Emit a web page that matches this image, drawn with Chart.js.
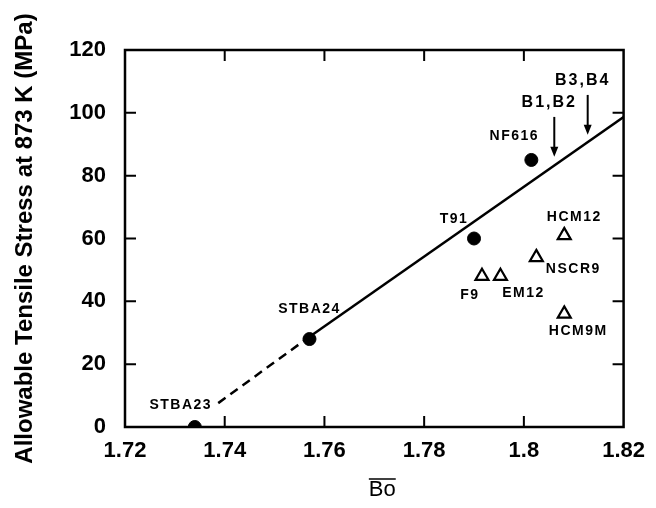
<!DOCTYPE html>
<html>
<head>
<meta charset="utf-8">
<script src="https://cdn.jsdelivr.net/npm/chart.js@4.4.1/dist/chart.umd.min.js"></script>
<style>
  html, body { margin: 0; padding: 0; background: #fff; }
  #c { display: block; }
</style>
</head>
<body>
<canvas id="c" width="656" height="508"></canvas>
<script>
// filled circles
const dotNames = ['STBA23', 'STBA24', 'T91', 'NF616'];
const dotBo = [1.734, 1.757, 1.790, 1.8015];
const dotStress = [0, 28, 60, 85];

// open triangles
const triNames = ['F9', 'EM12', 'NSCR9', 'HCM12', 'HCM9M'];
const triBo = [1.7916, 1.7953, 1.8025, 1.8081, 1.8081];
const triStress = [48, 48, 54, 61, 36];

// fitted line (dashed part then solid part)
const dashBo = [1.7387, 1.7568];
const dashStress = [7.6, 28.5];
const solidBo = [1.7568, 1.82];
const solidStress = [28.5, 98.7];

// arrows
const arrowNames = ['B1,B2', 'B3,B4'];
const arrowBo = [1.8061, 1.8128];
const arrowTop = [98.7, 105.7];
const arrowTip = [86, 93];

const xTicks = [1.72, 1.74, 1.76, 1.78, 1.8, 1.82];
const yTicks = [0, 20, 40, 60, 80, 100, 120];

const toPts = (xs, ys) => xs.map((x, i) => ({ x: x, y: ys[i] }));

// label placement, pixel offsets from the marker
const labelOffsets = {
  STBA23: [-14, -22], STBA24: [0, -30], T91: [-20, -19], NF616: [-17, -24],
  F9: [-12, 19], EM12: [23, 17], NSCR9: [37, 12], HCM12: [10, -18], HCM9M: [14, 17]
};

const frame = {
  id: 'frame',
  afterDraw(chart) {
    const { ctx, chartArea: a, scales } = chart;
    ctx.save();
    ctx.strokeStyle = '#000';
    ctx.lineWidth = 2.5;
    ctx.strokeRect(a.left, a.top, a.right - a.left, a.bottom - a.top);
    ctx.lineWidth = 2;
    const tl = 11;
    ctx.beginPath();
    xTicks.slice(1, -1).forEach(v => {
      const px = scales.x.getPixelForValue(v);
      ctx.moveTo(px, a.bottom); ctx.lineTo(px, a.bottom - tl);
      ctx.moveTo(px, a.top); ctx.lineTo(px, a.top + tl);
    });
    yTicks.slice(1, -1).forEach(v => {
      const py = scales.y.getPixelForValue(v);
      ctx.moveTo(a.left, py); ctx.lineTo(a.left + tl, py);
      ctx.moveTo(a.right, py); ctx.lineTo(a.right - tl, py);
    });
    ctx.stroke();

    // marker labels
    ctx.fillStyle = '#000';
    ctx.textAlign = 'center';
    ctx.textBaseline = 'middle';
    ctx.font = 'bold 14px "Liberation Sans"';
    ctx.letterSpacing = '1.5px';
    const lab = (names, xs, ys) => names.forEach((n, i) => {
      const o = labelOffsets[n];
      ctx.fillText(n, scales.x.getPixelForValue(xs[i]) + o[0], scales.y.getPixelForValue(ys[i]) + o[1]);
    });
    lab(dotNames, dotBo, dotStress);
    lab(triNames, triBo, triStress);

    // arrows
    ctx.font = 'bold 16px "Liberation Sans"';
    ctx.letterSpacing = '2px';
    arrowNames.forEach((n, i) => {
      const px = scales.x.getPixelForValue(arrowBo[i]);
      const y0 = scales.y.getPixelForValue(arrowTop[i]);
      const y1 = scales.y.getPixelForValue(arrowTip[i]);
      ctx.beginPath();
      ctx.lineWidth = 2;
      ctx.moveTo(px, y0); ctx.lineTo(px, y1 - 4);
      ctx.stroke();
      ctx.beginPath();
      ctx.moveTo(px - 4, y1 - 10); ctx.lineTo(px + 4, y1 - 10); ctx.lineTo(px, y1);
      ctx.closePath();
      ctx.fill();
      ctx.fillText(n, px - 5, y0 - 14);
    });

    // x title with overline
    ctx.letterSpacing = '0px';
    ctx.font = '22px "Liberation Sans"';
    const cx = (a.left + a.right) / 2 + 8;
    ctx.fillText('Bo', cx, 490);
    const w = ctx.measureText('Bo').width;
    ctx.beginPath();
    ctx.lineWidth = 1.5;
    ctx.moveTo(cx - w / 2, 479); ctx.lineTo(cx + w / 2, 479);
    ctx.stroke();
    ctx.restore();
  }
};

new Chart(document.getElementById('c'), {
  type: 'scatter',
  data: {
    datasets: [
      {
        data: toPts(dotBo, dotStress),
        pointStyle: 'circle', pointRadius: 6.5,
        backgroundColor: '#000', borderColor: '#000', borderWidth: 1
      },
      {
        data: toPts(triBo, triStress),
        pointStyle: 'triangle', pointRadius: 7.5,
        backgroundColor: '#fff', borderColor: '#000', borderWidth: 2.2
      },
      {
        type: 'line', data: toPts(dashBo, dashStress),
        borderColor: '#000', borderWidth: 2.5, borderDash: [9, 6],
        pointRadius: 0, fill: false
      },
      {
        type: 'line', data: toPts(solidBo, solidStress),
        borderColor: '#000', borderWidth: 2.5,
        pointRadius: 0, fill: false
      }
    ]
  },
  options: {
    responsive: false,
    animation: false,
    layout: { padding: { top: 50, right: 28, left: 0, bottom: 0 } },
    plugins: { legend: { display: false }, tooltip: { enabled: false } },
    scales: {
      x: {
        type: 'linear', min: 1.72, max: 1.82,
        grid: { display: false, drawTicks: false },
        border: { display: false },
        afterBuildTicks: s => { s.ticks = xTicks.map(v => ({ value: v })); },
        afterFit: s => { s.height = 81; },
        ticks: {
          color: '#000', padding: 11, maxRotation: 0,
          font: { family: 'Liberation Sans', size: 22, weight: 'bold' },
          callback: v => String(v)
        }
      },
      y: {
        min: 0, max: 120,
        grid: { display: false, drawTicks: false },
        border: { display: false },
        afterBuildTicks: s => { s.ticks = yTicks.map(v => ({ value: v })); },
        afterFit: s => { s.width = 125; },
        ticks: {
          color: '#000', padding: 19,
          font: { family: 'Liberation Sans', size: 22, weight: 'bold' }
        },
        title: {
          display: true, text: 'Allowable Tensile Stress at 873 K (MPa)',
          color: '#000', padding: { top: 11, bottom: 0 },
          font: { family: 'Liberation Sans', size: 24, weight: 'bold' }
        }
      }
    }
  },
  plugins: [frame]
});
</script>
</body>
</html>
